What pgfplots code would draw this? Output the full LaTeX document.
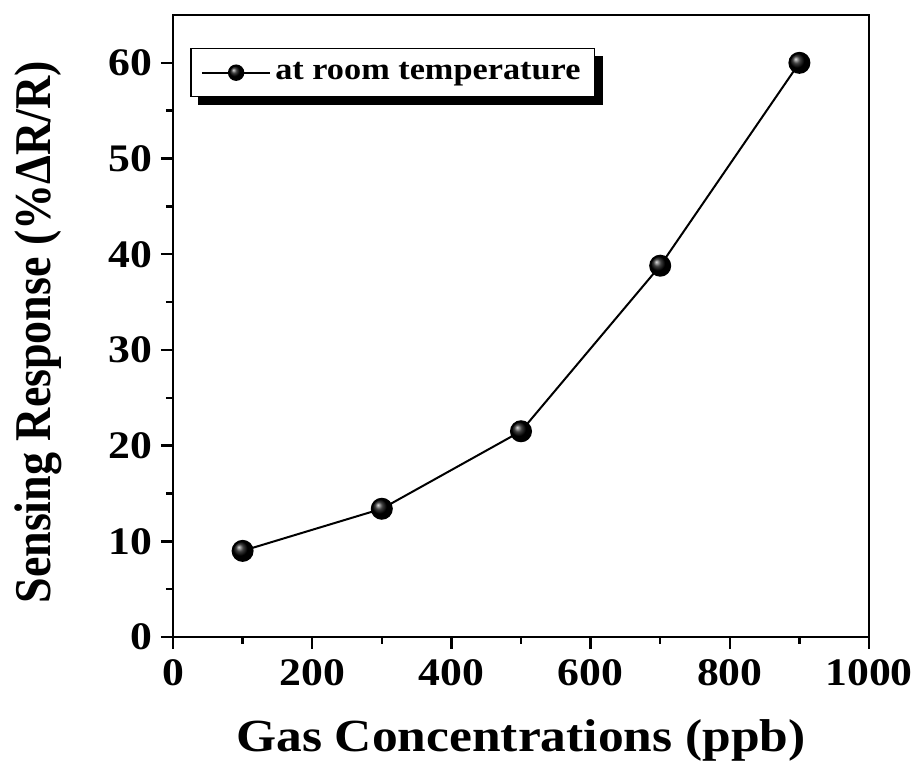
\documentclass[border=0pt]{standalone}
\usepackage{fontspec}
\setmainfont{Liberation Serif}
\newfontfamily\wideserif[FakeStretch=1.12]{Liberation Serif}
\usepackage{graphicx}
\usepackage{pgfplots}
\pgfplotsset{compat=1.18}
\pgfdeclarelayer{background}
\pgfsetlayers{background,main}
\begin{document}
\begin{tikzpicture}
\path[use as bounding box] (-86.5pt,-68.5pt) rectangle (373.5pt,318.5pt);
\begin{axis}[
  at={(0,0)}, anchor=south west,
  scale only axis, width=348pt, height=311pt,
  xmin=0, xmax=1000, ymin=0, ymax=65,
  xtick={0,200,...,1000}, ytick={0,10,...,60},
  minor x tick num=1, minor y tick num=1,
  xtick pos=bottom, ytick pos=left,
  tick align=outside,
  major tick length=6pt, minor tick length=3.5pt,
  every tick/.style={black, line width=1.2pt},
  axis line style={line width=1.4pt},
  /pgf/number format/assume math mode=true,
  /pgf/number format/1000 sep={},
  ticklabel style={font=\wideserif\bfseries\fontsize{19.5}{19.5}\selectfont},
  xticklabel style={yshift=-2pt},
  yticklabel style={xshift=-1pt},
  xlabel={Gas Concentrations (ppb)},
  ylabel={\scalebox{1}[1.12]{Sensing Response (\%ΔR/R)}},
  xlabel style={font=\wideserif\bfseries\fontsize{23}{23}\selectfont,
    at={(axis description cs:0.5,0)}, anchor=center, yshift=-51.5pt},
  ylabel style={font=\bfseries\fontsize{23}{23}\selectfont,
    at={(axis description cs:0,0.49)}, anchor=center, yshift=67.5pt},
  legend style={name=leg, at={(rel axis cs:0.025,0.947)}, anchor=north west,
    draw=black, line width=0.6pt, fill=white,
    font=\wideserif\bfseries\fontsize{15.3}{15.3}\selectfont,
    inner xsep=5pt, inner ysep=5pt},
  legend cell align=left,
  legend image code/.code={\draw[mark repeat=2,mark phase=2,mark size=3.6pt] plot coordinates {(0cm,0cm) (0.6cm,0cm) (1.2cm,0cm)};},
]
\addplot[black, line width=1pt, mark=ball, mark size=5pt, mark options={ball color=black}]
  coordinates {(100,9.0) (300,13.4) (500,21.5) (700,38.8) (900,60.0)};
\addlegendentry{at room temperature}
\end{axis}
\begin{pgfonlayer}{background}
\fill[black] ([xshift=4pt,yshift=-4pt]leg.south west) rectangle ([xshift=4pt,yshift=-4pt]leg.north east);
\end{pgfonlayer}
\end{tikzpicture}
\end{document}
